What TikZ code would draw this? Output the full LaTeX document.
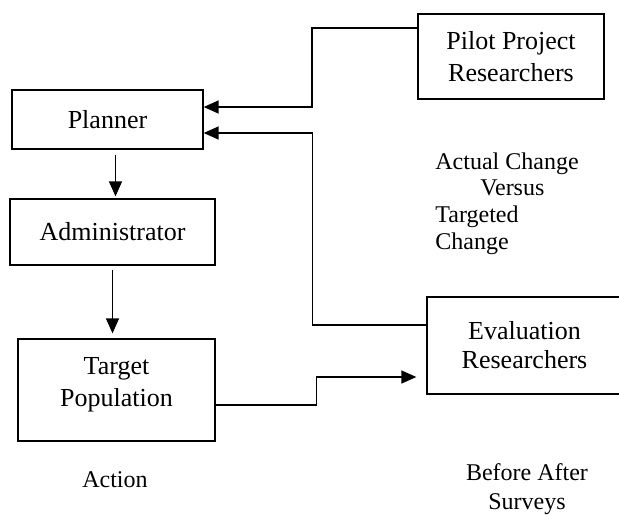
\documentclass[tikz,border=0pt]{standalone}
\usepackage{fontspec}
\setmainfont{Liberation Serif}
\usetikzlibrary{positioning,calc,arrows.meta}
\newcommand*{\boxfont}{\fontsize{13}{16}\selectfont}
\newcommand*{\notefont}{\fontsize{12}{13.4}\selectfont}

\begin{document}
\begin{tikzpicture}[x=0.5pt,y=-0.5pt,
  block/.style={draw,line width=0.65pt,inner sep=0pt,align=center,font=\boxfont},
  note/.style={inner sep=0pt,font=\notefont},
  conn/.style={line width=0.7pt},
  arr/.style={conn,-{Triangle[length=7.5pt,width=6.5pt]}}]
\useasboundingbox (0,0) rectangle (619,514);
% Boxes on the left
\node[block,minimum width=95.5pt,minimum height=29.5pt] (planner) at (107.5,119.5) {Planner};
\node[block,minimum width=102.5pt,minimum height=33pt] (admin) at (112.5,232) {Administrator};
\node[block,minimum width=98.5pt,minimum height=51pt,text depth=8.5pt] (target) at (116.5,390) {Target\\Population};
% Boxes on the right
\node[block,line width=1.15pt,minimum width=93pt,minimum height=42.5pt] (pilot) at (511,56.5) {Pilot Project\\Researchers};
\node[block,minimum width=97.5pt,minimum height=48.5pt,font=\fontsize{13}{14.5}\selectfont] (eval) at (524.5,345.5) {Evaluation\\Researchers};
% Notes
\node[note,align=left,anchor=north west] (change) at (435,152)
  {Actual Change\\\hspace*{22.5pt}Versus\\Targeted\\Change};
\node[note,anchor=north] (action) at (115,471.5) {Action};
\node[note,align=center,anchor=north,font=\fontsize{12}{14.5}\selectfont] (surveys) at (527,463) {Before After\\Surveys};
% Connectors down the left column
\draw[arr,shorten <=2.5pt,shorten >=1pt] ([xshift=4pt]planner.south) -- ([xshift=4pt]planner.south |- admin.north);
\draw[arr,shorten <=2pt,shorten >=2.5pt] (admin.south) -- (admin.south |- target.north);
% Feedback to the planner
\draw[arr] ([yshift=14.25pt]pilot.west) -- ++(-52.5pt,0) |- ([yshift=6.25pt]planner.east);
\draw[arr] ([yshift=10.25pt]eval.west) -- ++(-57pt,0) |- ([yshift=-6.75pt]planner.east);
% Population to evaluation
\draw[arr,shorten >=5pt] ([yshift=-7.5pt]target.east) -- ++(50.5pt,0) |- ([yshift=-15.75pt]eval.west);
\end{tikzpicture}
\end{document}
